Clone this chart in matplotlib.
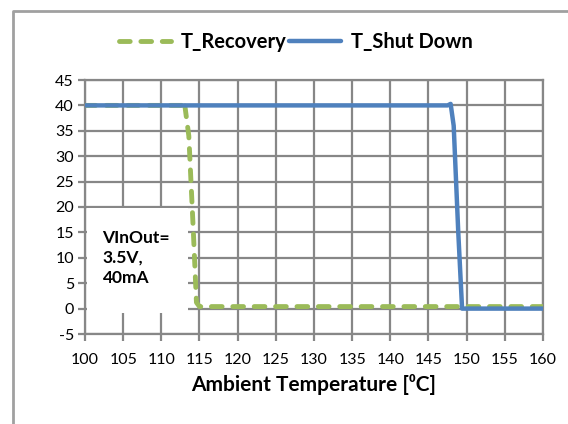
import matplotlib
matplotlib.use("Agg")
import matplotlib.pyplot as plt
from matplotlib.patches import Rectangle
from matplotlib.lines import Line2D

plt.rcParams['font.family'] = ['Lato', 'DejaVu Sans']
plt.rcParams['axes.unicode_minus'] = False

# data
recovery_t = [100, 112.6, 113.0, 113.6, 114.2, 114.6, 115.0, 160]
recovery_v = [40, 40, 40.9, 34, 15, 1.2, 0.4, 0.4]
shutdown_t = [100, 147.5, 147.9, 148.3, 148.9, 149.4, 160]
shutdown_v = [40, 40, 40.3, 36, 15, 0, 0]

x_ticks = list(range(100, 161, 5))
y_ticks = list(range(-5, 46, 5))

green = '#9BBB59'
blue = '#4F81BD'
grid_col = '#878787'

fig = plt.figure(figsize=(5.68, 4.24), dpi=100)
ax = fig.add_axes([85 / 568, 1 - 334 / 424, 458 / 568, 254 / 424])

# outer chart border (only left and top visible)
fig.add_artist(Line2D([13 / 568, 13 / 568, 1.02], [-0.02, 1 - 11 / 424, 1 - 11 / 424],
                      transform=fig.transFigure, color='#a0a0a0', lw=2))

ax.plot(recovery_t, recovery_v, color=green, lw=3.5, ls=(0, (2.2, 2.2)),
        dash_capstyle='round', solid_capstyle='round', zorder=3, label='T_Recovery')
ax.plot(shutdown_t, shutdown_v, color=blue, lw=3.2, solid_capstyle='round',
        solid_joinstyle='round', zorder=4, label='T_Shut Down')

ax.set_xlim(100, 160)
ax.set_ylim(-5, 45)
ax.set_xticks(x_ticks)
ax.set_yticks(y_ticks)
ax.grid(True, color=grid_col, lw=1.6)
ax.set_axisbelow(True)
for s in ax.spines.values():
    s.set_color(grid_col)
    s.set_linewidth(1.6)
ax.tick_params(axis='both', colors=grid_col, width=1.6, length=5, labelsize=11.5,
               labelcolor='black', pad=3)
ax.tick_params(axis='x', pad=9)

# white label box covering gridlines
ax.add_patch(Rectangle((100.25, -0.8), 13.25, 20.6, facecolor='white',
                       edgecolor='none', zorder=1))
ax.text(102.3, 15.5, 'VInOut=\n3.5V,\n40mA', fontsize=12.5, fontweight='bold',
        va='top', ha='left', linespacing=1.3, zorder=2)

ax.set_xlabel('Ambient Temperature [⁰C]', fontsize=15, fontweight='bold', labelpad=5)

fig.legend(loc='center', bbox_to_anchor=(296 / 568, 1 - 42 / 424), ncol=2, frameon=False,
           prop={'size': 14.5, 'weight': 'bold'}, handlelength=2.6, columnspacing=0.1,
           handletextpad=0.5)

fig.savefig('out.png', dpi=100)
